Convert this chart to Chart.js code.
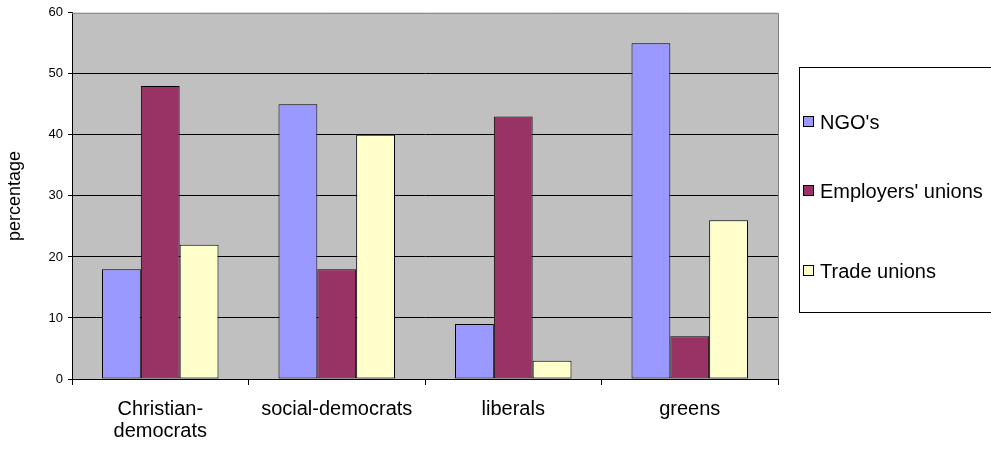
<!DOCTYPE html>
<html>
<head>
<meta charset="utf-8">
<script src="https://cdn.jsdelivr.net/npm/chart.js@4/dist/chart.umd.min.js"></script>
<style>
  html, body { margin: 0; padding: 0; background: #fff; }
  canvas { display: block; }
</style>
</head>
<body>
<canvas id="c" width="991" height="451"></canvas>
<script>
const categories = [['Christian-', 'democrats'], 'social-democrats', 'liberals', 'greens'];
const seriesNames = ["NGO's", "Employers' unions", 'Trade unions'];
const ngo = [18, 45, 9, 55];
const employers = [48, 18, 43, 7];
const trade = [22, 40, 3, 26];
const yTicks = [0, 10, 20, 30, 40, 50, 60];

const colors = ['#9999FF', '#993366', '#FFFFCC'];
const FONT = '"Liberation Sans", Arial, sans-serif';

// grey plot background + grey top/right frame
const plotBg = {
  id: 'plotBg',
  beforeDraw(chart) {
    const { ctx, chartArea: a } = chart;
    ctx.save();
    ctx.fillStyle = '#C0C0C0';
    ctx.fillRect(a.left, a.top, a.right - a.left, a.bottom - a.top);
    ctx.restore();
  },
  afterDraw(chart) {
    const { ctx, chartArea: a } = chart;
    ctx.save();
    ctx.strokeStyle = '#808080';
    ctx.lineWidth = 1;
    ctx.beginPath();
    ctx.moveTo(a.left, a.top + 0.5);
    ctx.lineTo(a.right + 0.5, a.top + 0.5);
    ctx.lineTo(a.right + 0.5, a.bottom);
    ctx.stroke();
    ctx.restore();
  }
};

// boxed legend on the right, like the original
const boxLegend = {
  id: 'boxLegend',
  afterDraw(chart) {
    const { ctx } = chart;
    ctx.save();
    ctx.strokeStyle = '#000';
    ctx.lineWidth = 1;
    ctx.strokeRect(799.5, 67.5, 220, 245);
    const ys = [122, 191, 271];
    ctx.font = '20px ' + FONT;
    ctx.textBaseline = 'middle';
    chart.data.datasets.forEach((ds, i) => {
      ctx.fillStyle = ds.backgroundColor;
      ctx.fillRect(803.5, ys[i] - 5.5, 10, 10);
      ctx.strokeRect(803.5, ys[i] - 5.5, 10, 10);
      ctx.fillStyle = '#000';
      ctx.fillText(ds.label, 820, ys[i] + 1);
    });
    ctx.restore();
  }
};

const mk = (label, data, i) => ({
  label, data,
  backgroundColor: colors[i],
  borderColor: '#000',
  borderWidth: 1,
  borderSkipped: false,
  categoryPercentage: 0.66,
  barPercentage: 1.0
});

new Chart(document.getElementById('c'), {
  type: 'bar',
  data: {
    labels: categories,
    datasets: [
      mk(seriesNames[0], ngo, 0),
      mk(seriesNames[1], employers, 1),
      mk(seriesNames[2], trade, 2)
    ]
  },
  options: {
    responsive: false,
    animation: false,
    layout: { padding: { top: 12, right: 213, left: 0, bottom: 0 } },
    plugins: { legend: { display: false }, tooltip: { enabled: false } },
    scales: {
      x: {
        afterFit(s) { s.height = 72; },
        grid: { offset: true, drawOnChartArea: false, color: '#000', tickLength: 6 },
        border: { color: '#000', width: 1 },
        ticks: { color: '#000', font: { family: FONT, size: 20, lineHeight: 1.1 }, padding: 13, maxRotation: 0, autoSkip: false }
      },
      y: {
        min: 0, max: 60,
        afterFit(s) { s.width = 72; },
        afterBuildTicks(s) { s.ticks = yTicks.map(v => ({ value: v })); },
        grid: {
          color: ctx => (ctx.tick && ctx.tick.value === 60 ? 'rgba(0,0,0,0)' : '#000'),
          tickColor: '#000',
          tickLength: 4
        },
        border: { color: '#000', width: 1 },
        ticks: { color: '#000', font: { family: FONT, size: 13 }, padding: 5 },
        title: { display: true, text: 'percentage', color: '#000', font: { family: FONT, size: 18 }, padding: { top: 4, bottom: 0 } }
      }
    }
  },
  plugins: [plotBg, boxLegend]
});
</script>
</body>
</html>
